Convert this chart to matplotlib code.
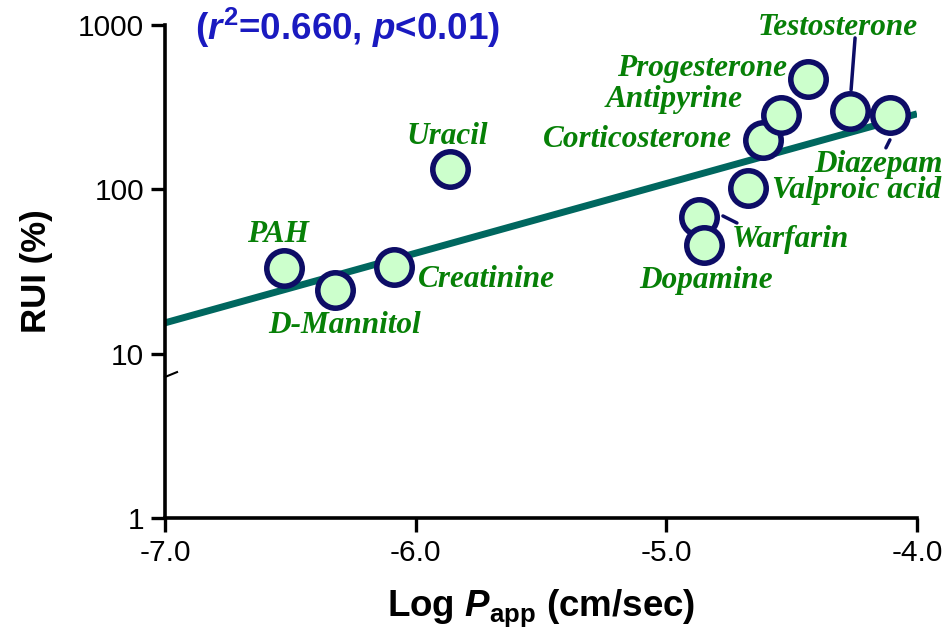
import matplotlib
matplotlib.use("Agg")
import matplotlib.pyplot as plt
from matplotlib.ticker import FixedLocator, NullLocator
from matplotlib.transforms import offset_copy

plt.rcParams['font.family'] = ['Liberation Sans', 'DejaVu Sans']
plt.rcParams['axes.unicode_minus'] = False
plt.rcParams['mathtext.fontset'] = 'custom'
plt.rcParams['mathtext.rm'] = 'Liberation Sans:bold'
plt.rcParams['mathtext.bf'] = 'Liberation Sans:bold'
plt.rcParams['mathtext.it'] = 'Liberation Sans:bold:italic'

# data
compounds = ["PAH", "D-Mannitol", "Creatinine", "Uracil", "Warfarin", "Dopamine",
             "Valproic acid", "Corticosterone", "Antipyrine", "Progesterone",
             "Testosterone", "Diazepam"]
log_papp = [-6.525, -6.322, -6.086, -5.863, -4.870, -4.850,
            -4.674, -4.614, -4.543, -4.435, -4.267, -4.108]
rui = [33.2, 24.4, 33.7, 133, 67.9, 45.9,
       102, 200, 284, 470, 300, 284]

fit_x = [-7.0, -4.0]
fit_y = [15.4, 288]

r2_text = r'$\text{(}\mathit{r}^{\text{2}}\text{=0.660, }\mathit{p}\text{<}\mathit{0.01}\text{)}$'

# label placement: (dx, dy) in pixels from the point, horizontal alignment
label_pos = {
    "PAH": (-6, 26, 'center'),
    "D-Mannitol": (10, -43, 'center'),
    "Creatinine": (24, -20, 'left'),
    "Uracil": (-3, 25, 'center'),
    "Warfarin": (33, -30, 'left'),
    "Dopamine": (2, -43, 'center'),
    "Valproic acid": (24, -10, 'left'),
    "Corticosterone": (-31, -7, 'right'),
    "Antipyrine": (-38, 8, 'right'),
    "Progesterone": (-21, 3, 'right'),
    "Testosterone": (-12, 76, 'center'),
    "Diazepam": (-12, -57, 'center'),
}
leaders = {
    "Testosterone": ((5, 73), (1, 21)),
    "Warfarin": ((24, 1), (38, -6)),
    "Diazepam": ((0, -25), (-4, -33)),
}

navy = '#0d0d66'
green = '#078007'

fig = plt.figure(figsize=(9.46, 6.34), dpi=100)
ax = fig.add_axes([165 / 946, 1 - 518 / 634, 752 / 946, 493 / 634])

ax.plot(fit_x, fit_y, color='#00675f', lw=5, solid_capstyle='butt', zorder=2)
for xv, yv in zip(log_papp, rui):
    ax.plot(xv, yv, 'o', ms=25.5, mfc='#ccffcc', mec=navy, mew=4, zorder=3)

for name, xv, yv in zip(compounds, log_papp, rui):
    dx, dy, ha = label_pos[name]
    ax.annotate(name, (xv, yv), xytext=(dx, dy), textcoords='offset pixels',
                ha=ha, va='baseline', color=green, fontsize=22.5,
                family='Liberation Serif', fontweight='bold', fontstyle='italic')
    if name in leaders:
        (a0, b0), (a1, b1) = leaders[name]
        ax.annotate('', xy=(xv, yv), xycoords=offset_copy(ax.transData, fig, x=a1, y=b1, units='dots'),
                    xytext=(xv, yv), textcoords=offset_copy(ax.transData, fig, x=a0, y=b0, units='dots'),
                    arrowprops=dict(arrowstyle='-', lw=2.5, color=navy, shrinkA=0, shrinkB=0))

ax.set_yscale('log')
ax.set_xlim(-7.0, -4.0)
ax.set_ylim(1, 1000)
ax.xaxis.set_major_locator(FixedLocator([-7.0, -6.0, -5.0, -4.0]))
ax.set_xticklabels(['-7.0', '-6.0', '-5.0', '-4.0'])
ax.yaxis.set_major_locator(FixedLocator([1, 10, 100, 1000]))
ax.yaxis.set_minor_locator(NullLocator())
ax.set_yticklabels(['1', '10', '100', '1000'])

for s in ['top', 'right']:
    ax.spines[s].set_visible(False)
for s in ['left', 'bottom']:
    ax.spines[s].set_linewidth(2.6)
ax.tick_params(axis='both', which='major', length=10, width=2.4, labelsize=21.5, pad=5)

# axis break mark on the y axis
ax.plot([0, 0.016], [0.286, 0.296], transform=ax.transAxes, color='black', lw=1.5, clip_on=False)

ax.set_ylabel('RUI (%)', fontsize=25, fontweight='bold')
ax.yaxis.set_label_coords(-0.149, 0.5)
ax.set_xlabel(r'Log $\mathit{P}_{\mathrm{app}}$ (cm/sec)', fontsize=26.5, fontweight='bold', labelpad=15)

fig.text(195 / 946, 1 - 28 / 634, r2_text, fontsize=26.5, color='#1a1ac0', va='center', ha='left')

fig.savefig('out.png', dpi=100)
